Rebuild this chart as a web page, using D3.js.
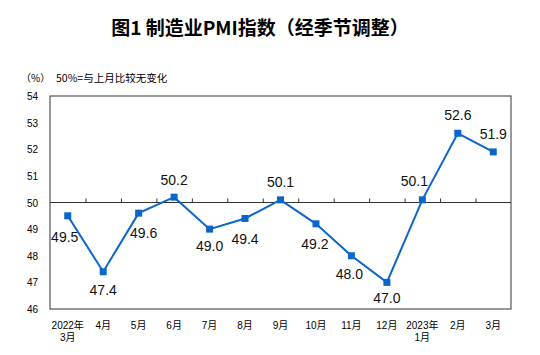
<!DOCTYPE html>
<html><head><meta charset="utf-8">
<script src="https://cdn.jsdelivr.net/npm/d3@7"></script>
<style>
body{margin:0;background:#fff;}
text{font-family:"Liberation Sans",Arial,"Noto Sans CJK SC",sans-serif;}
</style></head>
<body><svg id="c" width="540" height="355"></svg>
<script>
const months = ["2022年\n3月","4月","5月","6月","7月","8月","9月","10月","11月","12月","2023年\n1月","2月","3月"];
const pmi = [49.5,47.4,49.6,50.2,49.0,49.4,50.1,49.2,48.0,47.0,50.1,52.6,51.9];
const yTicks = [46,47,48,49,50,51,52,53,54];
// label offsets (dx, dy) relative to point
const labelDx = [-3,0,5,0,0,0,0,-1,-2,0,-8,0,0];
const labelDy = [21,18,20,-17,17,21,-18,20,18,16,-19,-18,-18];

const svg = d3.select("#c");
const m = {l:50, r:511, t:96, b:309};
const x = d3.scaleBand().domain(d3.range(months.length)).range([m.l, m.r]);
const y = d3.scaleLinear().domain([46,54]).range([m.b, m.t]);

svg.append("text").attr("x",260).attr("y",35).attr("text-anchor","middle")
  .style("font-size","19px").style("font-weight","bold")
  .style("font-family","'Noto Sans CJK SC',sans-serif").attr("fill","#000")
  .text("图1 制造业PMI指数（经季节调整）");
svg.append("text").attr("x",21).attr("y",82).style("font-size","10px").attr("fill","#000")
  .style("font-family","'Noto Sans CJK SC',sans-serif").text("（%）");
svg.append("text").attr("x",56).attr("y",82).style("font-size","10.5px").attr("fill","#000")
  .style("font-family","'Noto Sans CJK SC',sans-serif").text("50%=与上月比较无变化");

// frame
svg.append("rect").attr("x",m.l).attr("y",m.t).attr("width",m.r-m.l).attr("height",m.b-m.t)
  .attr("fill","none").attr("stroke","#333").attr("stroke-width",1);

// y axis
const yAxis = d3.axisLeft(y).tickValues(yTicks).tickSize(0).tickPadding(12);
const ga = svg.append("g").attr("transform",`translate(${m.l},0)`).call(yAxis);
ga.select(".domain").remove();
ga.selectAll("text").style("font-size","10px").attr("fill","#000").attr("dy","0.35em")
  .style("font-family","'Liberation Sans Narrow','Liberation Sans',Arial,sans-serif");

// 50 baseline with ticks
const y50 = y(50);
svg.append("line").attr("x1",m.l).attr("x2",m.r).attr("y1",y50).attr("y2",y50)
  .attr("stroke","#333").attr("stroke-width",1);
const xAxis = d3.axisTop(d3.scaleLinear().domain([0,months.length]).range([m.l,m.r]))
  .tickValues(d3.range(1,months.length)).tickSize(4).tickFormat("");
const gx = svg.append("g").attr("transform",`translate(0,${y50})`).call(xAxis);
gx.select(".domain").remove();
gx.selectAll("line").attr("stroke","#333");

// x labels
const xl = svg.append("g");
months.forEach((mo,i)=>{
  const parts = mo.split("\n");
  const t = xl.append("text").attr("x",x(i)+x.bandwidth()/2).attr("y",329)
    .attr("text-anchor","middle").style("font-size","10px").attr("fill","#000")
    .style("font-family","'Liberation Sans Narrow','Liberation Sans','Noto Sans CJK SC',sans-serif");
  parts.forEach((p,j)=>t.append("tspan").attr("x",x(i)+x.bandwidth()/2).attr("dy",j?12:0).text(p));
});

const cx = i => x(i)+x.bandwidth()/2;
svg.append("path").datum(pmi)
  .attr("d", d3.line().x((d,i)=>cx(i)).y(d=>y(d)))
  .attr("fill","none").attr("stroke","#0a66c8").attr("stroke-width",2);
svg.selectAll("rect.mk").data(pmi).join("rect").attr("class","mk")
  .attr("x",(d,i)=>cx(i)-3.5).attr("y",d=>y(d)-3.5).attr("width",7).attr("height",7)
  .attr("fill","#0a66c8");
svg.selectAll("text.lb").data(pmi).join("text").attr("class","lb")
  .attr("x",(d,i)=>cx(i)+labelDx[i]).attr("y",(d,i)=>y(d)+labelDy[i])
  .attr("dy","0.35em").attr("text-anchor","middle")
  .style("font-size","14px").attr("fill","#111")
  .text(d=>d.toFixed(1));
</script></body></html>
